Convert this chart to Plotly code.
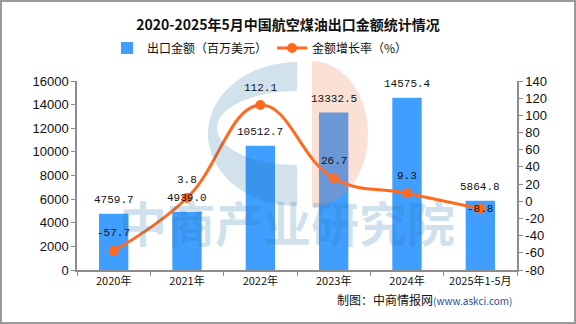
import numpy as np
import plotly.graph_objects as go

# ---- data ----
categories = ["2020年", "2021年", "2022年", "2023年", "2024年", "2025年1-5月"]
export_value = [4759.7, 4939.0, 10512.7, 13332.5, 14575.4, 5864.8]
growth_rate = [-57.7, 3.8, 112.1, 26.7, 9.3, -8.8]
left_ticks = [0, 2000, 4000, 6000, 8000, 10000, 12000, 14000, 16000]
right_ticks = [-80, -60, -40, -20, 0, 20, 40, 60, 80, 100, 120, 140]

title_text = "2020-2025年5月中国航空煤油出口金额统计情况"
bar_name = "出口金额（百万美元）"
line_name = "金额增长率（%）"

# ---- styles ----
BAR_COLOR = "#409EFF"
LINE_COLOR = "#FF6A1F"
AXIS_COLOR = "#8c8c8c"
W, H = 576, 324
PL, PR, PT, PB = 77, 517, 81, 270  # plot area in pixels
growth_label_shift = [18, 18, 17, 17, 17, 0]


def px2x(px):
    return (px - PL) / (PR - PL)


def py2y(py):
    return (PB - py) / (PB - PT)


def half_ellipse(cx, cy, rx, ry, side, n=60):
    if side == "left":
        t = np.linspace(np.pi / 2, 3 * np.pi / 2, n)
    else:
        t = np.linspace(-np.pi / 2, np.pi / 2, n)
    xs = cx + rx * np.cos(t)
    ys = cy - ry * np.sin(t)
    pts = ["{:.4f},{:.4f}".format(px2x(a), py2y(b)) for a, b in zip(xs, ys)]
    return "M" + " L".join(pts) + " Z"


fig = go.Figure()

fig.add_trace(go.Bar(
    x=categories, y=export_value, name=bar_name,
    marker=dict(color=BAR_COLOR, line=dict(width=0)),
    width=0.4, yaxis="y",
))

fig.add_trace(go.Scatter(
    x=categories, y=growth_rate, name=line_name, yaxis="y2",
    mode="lines+markers",
    line=dict(color=LINE_COLOR, width=3, shape="spline", smoothing=1.2),
    marker=dict(color=LINE_COLOR, size=10),
))

annotations = []
for c, v in zip(categories, export_value):
    annotations.append(dict(
        x=c, y=v, xref="x", yref="y", text="{:.1f}".format(v),
        showarrow=False, yshift=14,
        font=dict(family="Liberation Mono, DejaVu Sans Mono", size=11, color="#111"),
    ))
for c, g, s in zip(categories, growth_rate, growth_label_shift):
    annotations.append(dict(
        x=c, y=g, xref="x", yref="y2", text="{:.1f}".format(g),
        showarrow=False, yshift=s,
        font=dict(family="Liberation Mono, DejaVu Sans Mono", size=11, color="#111"),
    ))

# watermark text
annotations.append(dict(
    x=px2x(287), y=py2y(258), xref="paper", yref="paper",
    text="<b>中商产业研究院</b>", showarrow=False,
    font=dict(family="Noto Sans CJK SC", size=48, color="rgba(40,120,170,0.22)"),
))

# footer
annotations.append(dict(
    x=px2x(514), y=py2y(310), xref="paper", yref="paper", xanchor="right",
    text="制图：中商情报网<span style='font-size:10px;color:#1f4e99'>(www.askci.com)</span>",
    showarrow=False,
    font=dict(family="Noto Sans CJK SC", size=12, color="#111"),
))

shapes = [
    # logo watermark (blue G) above traces
    dict(type="path", xref="paper", yref="paper", layer="above",
         path=half_ellipse(297, 134, 89, 72, "left") + " " + half_ellipse(297, 128, 80, 37, "left"),
         fillcolor="rgb(30,110,160)", opacity=0.2, line=dict(width=0), fillrule="evenodd"),
    # logo watermark (orange)
    dict(type="path", xref="paper", yref="paper", layer="above",
         path=half_ellipse(312, 134, 56, 73, "right"),
         fillcolor="rgb(240,130,90)", opacity=0.25, line=dict(width=0)),
    # outer border
    dict(type="rect", xref="paper", yref="paper", layer="above",
         x0=px2x(1), x1=px2x(575), y0=py2y(1), y1=py2y(323),
         line=dict(color="#999999", width=2), fillcolor="rgba(0,0,0,0)"),
]

fig.update_layout(
    width=W, height=H,
    margin=dict(l=PL, r=W - PR, t=PT, b=H - PB, pad=0),
    paper_bgcolor="white", plot_bgcolor="white",
    title=dict(text="<b>" + title_text + "</b>", x=0.5, xanchor="center",
               y=1 - 25 / H, yanchor="middle",
               font=dict(family="Noto Sans CJK SC", size=14, color="#111")),
    legend=dict(orientation="h", x=px2x(260), xanchor="center",
                y=py2y(48), yanchor="middle",
                font=dict(family="Noto Sans CJK SC", size=12, color="#111"),
                itemwidth=30, tracegroupgap=0, bgcolor="rgba(0,0,0,0)"),
    showlegend=True,
    bargap=0.6,
    xaxis=dict(type="category", showline=True, linecolor=AXIS_COLOR, linewidth=1.5,
               ticks="outside", tickson="boundaries", ticklen=4, tickcolor=AXIS_COLOR,
               tickfont=dict(family="Noto Sans CJK SC", size=11, color="#111"),
               showgrid=False, zeroline=False),
    yaxis=dict(range=[0, 16000], tickvals=left_ticks,
               ticktext=[str(v) for v in left_ticks], showline=True,
               linecolor=AXIS_COLOR, linewidth=1.5, ticks="outside", ticklen=4,
               tickcolor=AXIS_COLOR, showgrid=False, zeroline=False,
               tickfont=dict(family="Liberation Sans", size=13, color="#111")),
    yaxis2=dict(range=[-80, 140], tickvals=right_ticks,
                ticktext=[str(v) for v in right_ticks], overlaying="y", side="right",
                showline=True, linecolor=AXIS_COLOR, linewidth=1.5, ticks="outside",
                ticklen=4, tickcolor=AXIS_COLOR, showgrid=False, zeroline=False,
                tickfont=dict(family="Liberation Sans", size=13, color="#111")),
    annotations=annotations,
    shapes=shapes,
)

fig.write_html("out.html")
